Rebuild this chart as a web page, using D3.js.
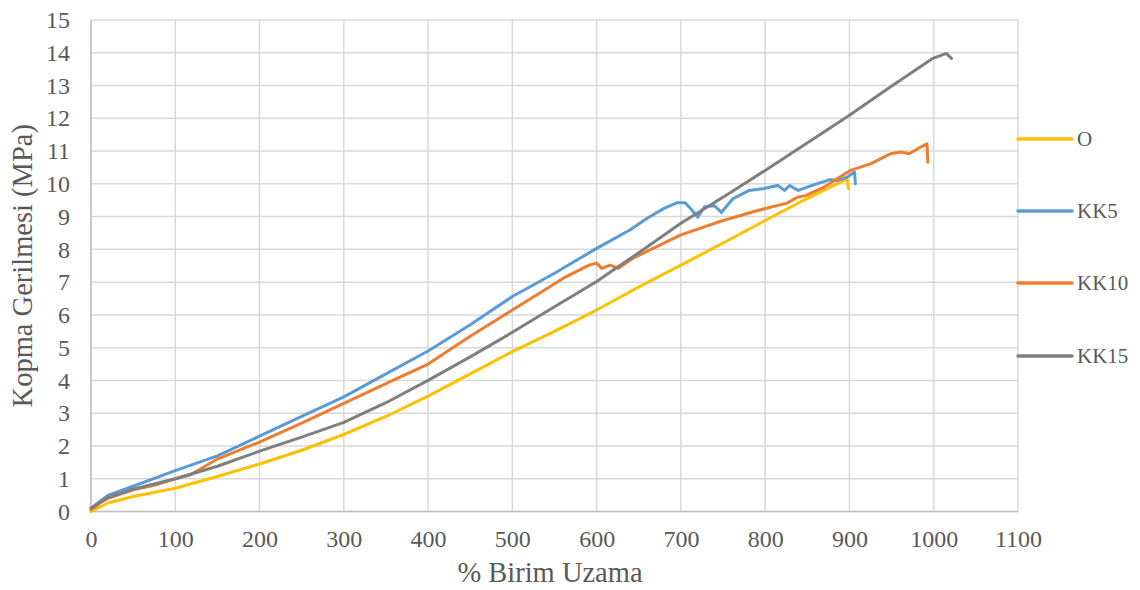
<!DOCTYPE html>
<html>
<head>
<meta charset="utf-8">
<script src="https://cdn.jsdelivr.net/npm/d3@7"></script>
<style>
  body { margin: 0; background: #fff; }
  svg { font-family: "Liberation Serif", "Times New Roman", serif; }
</style>
</head>
<body>
<div id="chart"></div>
<script>
// Series names and colours (legend order)
const seriesNames = ["O", "KK5", "KK10", "KK15"];
const seriesColors = ["#FFC000", "#5B9BD5", "#ED7D31", "#7F7F7F"];

// Tick values
const xTicks = [0, 100, 200, 300, 400, 500, 600, 700, 800, 900, 1000, 1100];
const yTicks = d3.range(0, 16);

// [% elongation, stress MPa]
const dataO = [
  [0, 0], [20, 0.26], [50, 0.46], [100, 0.71], [150, 1.07], [200, 1.45], [250, 1.87],
  [300, 2.35], [350, 2.9], [400, 3.52], [450, 4.2], [500, 4.88], [550, 5.5], [600, 6.15],
  [650, 6.85], [700, 7.52], [758, 8.3], [800, 8.88], [845, 9.49], [885, 10.0], [897, 10.15],
  [899, 9.85]
];
const dataKK5 = [
  [0, 0.1], [10, 0.3], [20, 0.49], [50, 0.77], [100, 1.25], [150, 1.7], [200, 2.3], [250, 2.9],
  [300, 3.5], [350, 4.2], [400, 4.9], [450, 5.7], [500, 6.56], [550, 7.27], [600, 8.03],
  [640, 8.6], [660, 8.95], [680, 9.25], [695, 9.42], [705, 9.42], [713, 9.2], [720, 8.98],
  [728, 9.3], [740, 9.33], [748, 9.13], [762, 9.55], [781, 9.8], [797, 9.85], [815, 9.95],
  [823, 9.8], [829, 9.95], [839, 9.8], [861, 10.0], [877, 10.13], [885, 10.1], [897, 10.2],
  [906, 10.36], [907, 10.0]
];
const dataKK10 = [
  [0, 0.05], [10, 0.25], [20, 0.4], [50, 0.66], [75, 0.8], [100, 1.0], [118, 1.12], [150, 1.6],
  [200, 2.12], [250, 2.7], [300, 3.3], [350, 3.9], [400, 4.5], [450, 5.35], [500, 6.15],
  [564, 7.17], [591, 7.52], [600, 7.58], [606, 7.42], [616, 7.52], [626, 7.42], [643, 7.73],
  [700, 8.44], [750, 8.88], [790, 9.18], [826, 9.41], [838, 9.59], [848, 9.64], [870, 9.9],
  [901, 10.41], [925, 10.61], [949, 10.92], [961, 10.97], [971, 10.92], [983, 11.1],
  [992, 11.22], [993, 10.66]
];
const dataKK15 = [
  [0, 0.1], [20, 0.42], [50, 0.68], [100, 1.0], [150, 1.38], [200, 1.84], [250, 2.27],
  [300, 2.72], [350, 3.32], [400, 4.0], [450, 4.72], [500, 5.47], [550, 6.25], [600, 7.02],
  [650, 7.9], [700, 8.8], [758, 9.72], [800, 10.41], [900, 12.09], [948, 12.95], [999, 13.83],
  [1015, 13.98], [1021, 13.83]
];
const seriesData = [dataO, dataKK5, dataKK10, dataKK15];

const width = 1140, height = 590;
const margin = { top: 20, right: 122, bottom: 78.5, left: 91 };

const svg = d3.select("#chart").append("svg")
  .attr("width", width)
  .attr("height", height);

const x = d3.scaleLinear().domain([0, 1100]).range([margin.left, width - margin.right]);
const y = d3.scaleLinear().domain([0, 15]).range([height - margin.bottom, margin.top]);

// gridlines
svg.append("g")
  .selectAll("line")
  .data(xTicks)
  .join("line")
  .attr("x1", d => x(d)).attr("x2", d => x(d))
  .attr("y1", y(0)).attr("y2", y(15))
  .attr("stroke", "#d9d9d9").attr("stroke-width", 1.5);

svg.append("g")
  .selectAll("line")
  .data(yTicks)
  .join("line")
  .attr("x1", x(0)).attr("x2", x(1100))
  .attr("y1", d => y(d)).attr("y2", d => y(d))
  .attr("stroke", "#d9d9d9").attr("stroke-width", 1.5);

// axis lines
svg.append("line")
  .attr("x1", x(0)).attr("x2", x(1100)).attr("y1", y(0)).attr("y2", y(0))
  .attr("stroke", "#bfbfbf").attr("stroke-width", 1.5);
svg.append("line")
  .attr("x1", x(0)).attr("x2", x(0)).attr("y1", y(0)).attr("y2", y(15))
  .attr("stroke", "#bfbfbf").attr("stroke-width", 1.5);

// axes (labels only)
const xAxis = svg.append("g")
  .attr("transform", `translate(0,${y(0)})`)
  .call(d3.axisBottom(x).tickValues(xTicks).tickFormat(d3.format("d")).tickSize(0).tickPadding(18.5));
const yAxis = svg.append("g")
  .attr("transform", `translate(${x(0)},0)`)
  .call(d3.axisLeft(y).tickValues(yTicks).tickFormat(d3.format("d")).tickSize(0).tickPadding(21));
[xAxis, yAxis].forEach(g => {
  g.select(".domain").remove();
  g.selectAll("text")
    .attr("fill", "#595959")
    .style("font-family", "'Liberation Serif', serif")
    .style("font-size", "24px");
});

// lines
const line = d3.line().x(d => x(d[0])).y(d => y(d[1]));
svg.append("g")
  .selectAll("path")
  .data(seriesData)
  .join("path")
  .attr("fill", "none")
  .attr("stroke", (d, i) => seriesColors[i])
  .attr("stroke-width", 3)
  .attr("stroke-linejoin", "round")
  .attr("stroke-linecap", "round")
  .attr("d", d => line(d));

// legend
const legendY = [139, 211, 283, 356];
const legend = svg.append("g")
  .selectAll("g")
  .data(seriesNames)
  .join("g")
  .attr("transform", (d, i) => `translate(${x(1100)},${legendY[i]})`);
legend.append("line")
  .attr("x1", 0).attr("x2", 54)
  .attr("stroke", (d, i) => seriesColors[i])
  .attr("stroke-width", 3.5)
  .attr("stroke-linecap", "round");
legend.append("text")
  .attr("x", 59)
  .attr("dy", "0.35em")
  .attr("fill", "#595959")
  .style("font-size", "21px")
  .text(d => d);

// axis titles
svg.append("text")
  .attr("x", 550)
  .attr("y", 582)
  .attr("text-anchor", "middle")
  .attr("fill", "#595959")
  .style("font-size", "28.5px")
  .text("% Birim Uzama");

svg.append("text")
  .attr("transform", `translate(32,${(y(0) + y(15)) / 2}) rotate(-90)`)
  .attr("text-anchor", "middle")
  .attr("fill", "#595959")
  .style("font-size", "28.5px")
  .text("Kopma Gerilmesi (MPa)");
</script>
</body>
</html>
